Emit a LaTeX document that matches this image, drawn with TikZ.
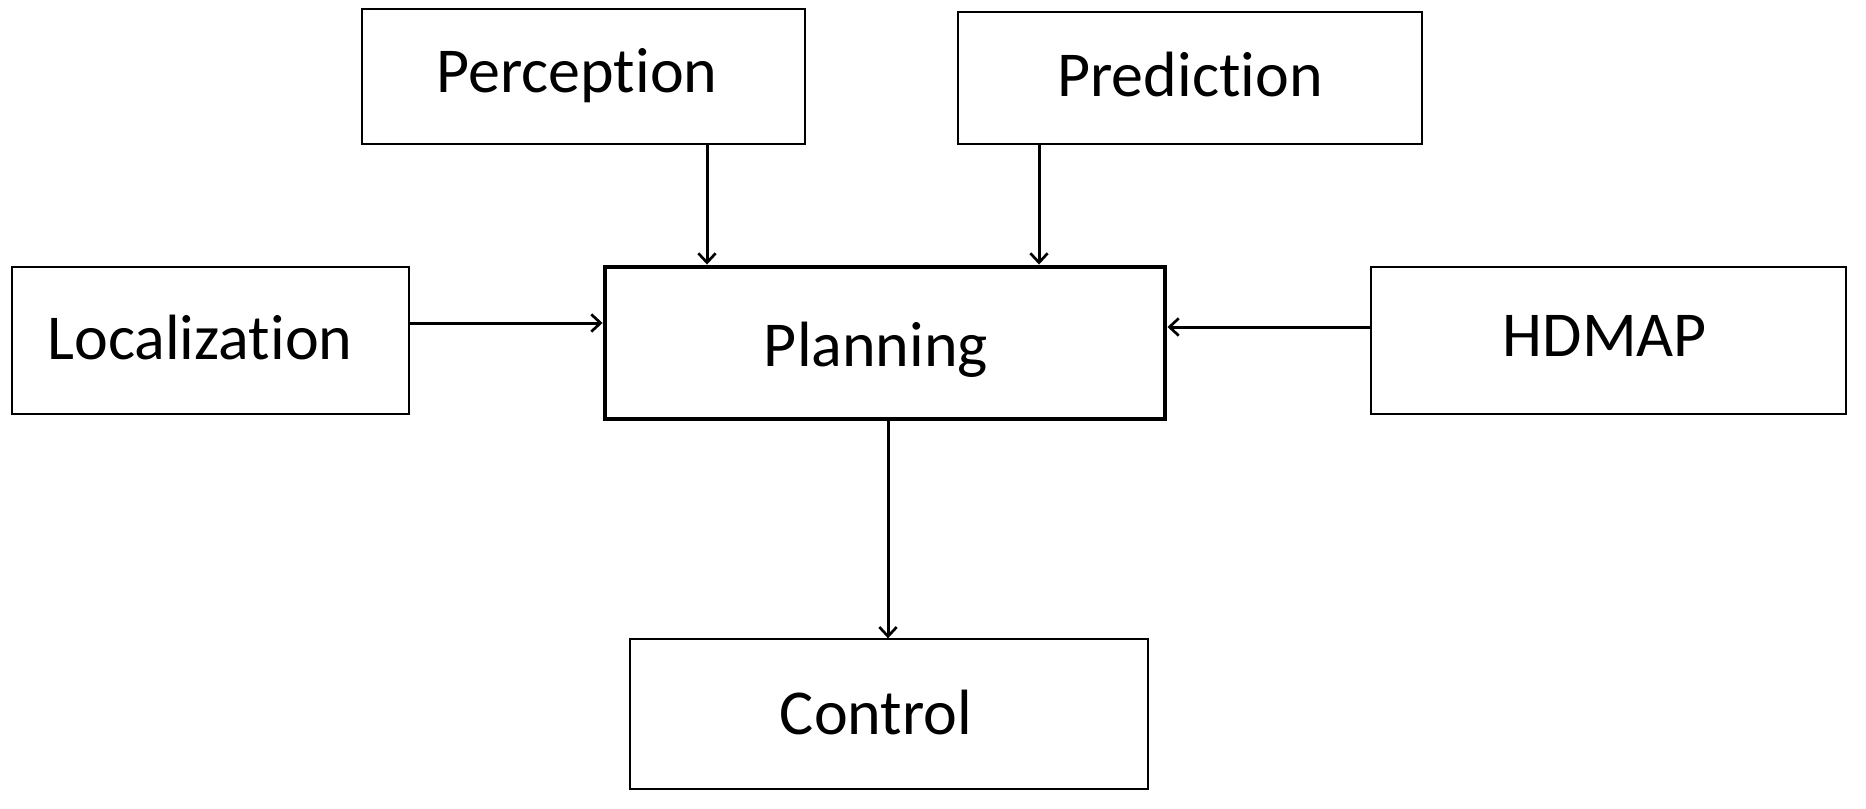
\documentclass[tikz,border=0pt]{standalone}
\usepackage{fontspec}
\setmainfont{Carlito}[Ligatures=NoCommon]
\usetikzlibrary{arrows.meta}
\begin{document}
\begin{tikzpicture}[x=0.75pt,y=-0.75pt,
  box/.style={draw=black,line width=1pt,inner sep=0pt,fill=white},
  bigbox/.style={draw=black,line width=3.7pt,inner sep=0pt,fill=white},
  lbl/.style={anchor=base,inner sep=0pt,font=\fontsize{48}{57}\selectfont},
  arr/.style={line width=2.25pt,-{Straight Barb[length=7pt,width=13pt,line width=2pt]}}]
\useasboundingbox (0,0) rectangle (1866,809);
\node[box,minimum width={443*0.75pt},minimum height={135*0.75pt}] (perc) at (583.5,76.5) {};
\node[lbl] (perct) at (577,93) {Perception};
\node[box,minimum width={464*0.75pt},minimum height={132*0.75pt}] (pred) at (1190,78) {};
\node[lbl] (predt) at (1190,97) {Prediction};
\node[box,minimum width={397*0.75pt},minimum height={147*0.75pt}] (loc) at (210.5,340.5) {};
\node[lbl] (loct) at (200,359) {Localization};
\node[bigbox,minimum width={560*0.75pt},minimum height={152*0.75pt}] (plan) at (885,343) {};
\node[lbl] (plant) at (876,366) {Planning};
\node[box,minimum width={475*0.75pt},minimum height={147*0.75pt}] (hd) at (1608.5,340.5) {};
\node[lbl] (hdt) at (1605,356) {HDMAP};
\node[box,minimum width={518*0.75pt},minimum height={150*0.75pt}] (ctrl) at (889,714) {};
\node[lbl] (ctrlt) at (876,734) {Control};
\coordinate (xp) at (707,0);
\coordinate (xq) at (1039,0);
\coordinate (xc) at (888,0);
\coordinate (yl) at (0,323);
\coordinate (yh) at (0,327);
\draw[arr] (perc.south -| xp) -- (plan.north -| xp);
\draw[arr] (pred.south -| xq) -- (plan.north -| xq);
\draw[arr] (loc.east |- yl) -- (plan.west |- yl);
\draw[arr] (hd.west |- yh) -- (plan.east |- yh);
\draw[arr] (plan.south -| xc) -- (ctrl.north -| xc);
\end{tikzpicture}
\end{document}
